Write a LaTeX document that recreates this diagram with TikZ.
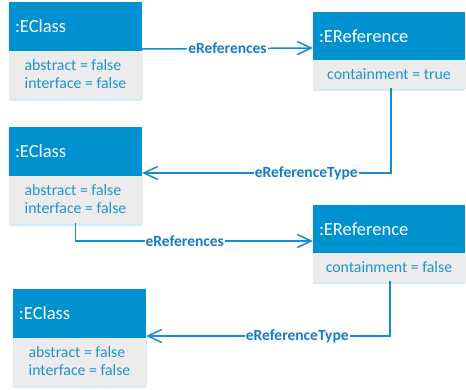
\documentclass[tikz,border=0pt]{standalone}
\usepackage{fontspec}
\setmainfont{Carlito}
\usetikzlibrary{arrows.meta, positioning, shadows}
\definecolor{headblue}{RGB}{0,146,208}
\definecolor{attrgray}{RGB}{236,236,236}
\definecolor{attrblue}{RGB}{32,146,212}
\definecolor{linkblue}{RGB}{22,140,212}
\definecolor{lblblue}{RGB}{24,122,196}

\begin{document}
\begin{tikzpicture}[x=1pt, y=-1pt,
  head/.style={fill=headblue, text=white, anchor=north west, align=left,
    font=\fontsize{18.5}{20}\selectfont, inner xsep=6pt, outer sep=0pt, minimum height=49pt},
  classhead/.style={head, text width=121pt},
  refhead/.style={head, text width=140pt, minimum height=48pt},
  attrs/.style={fill=attrgray, draw=black!8, text=attrblue, align=left,
    font=\fontsize{15.8}{18}\selectfont, outer sep=0pt,
    drop shadow={shadow xshift=0pt, shadow yshift=-2.5pt, fill=headblue!30, opacity=0.6}},
  classattr/.style={attrs, minimum width=133pt, minimum height=47pt},
  refattr/.style={attrs, minimum width=152pt, minimum height=28pt},
  link/.style={draw=linkblue, line width=1.5pt, -{Straight Barb[length=14pt, width=13pt]}},
  lbl/.style={fill=white, text=lblblue, inner sep=1pt, font=\fontsize{15.5}{18}\selectfont\bfseries}]
  \useasboundingbox (0,0) rectangle (466,389);

  % Objects
  \node[classhead] (c1h) at (9,2) {:EClass};
  \node[classattr, below=0pt of c1h] (c1a) {abstract = false\\interface = false};
  \node[refhead] (r1h) at (313,12) {:EReference};
  \node[refattr, below=0pt of r1h] (r1a) {containment = true};
  \node[classhead] (c2h) at (9,127) {:EClass};
  \node[classattr, below=0pt of c2h] (c2a) {abstract = false\\interface = false};
  \node[refhead] (r2h) at (313,205) {:EReference};
  \node[refattr, below=0pt of r2h] (r2a) {containment = false};
  \node[classhead] (c3h) at (13,289) {:EClass};
  \node[classattr, below=0pt of c3h] (c3a) {abstract = false\\interface = false};

  % Links
  \draw[link] ([yshift=2pt]c1h.south east) -- node[lbl] {eReferences} ([yshift=-12pt]r1h.west);
  \draw[link] ([xshift=2pt]r1a.south) |- node[lbl, pos=0.67] {eReferenceType} ([yshift=3pt]c2h.south east);
  \draw[link] (c2a.south) |- node[lbl, pos=0.73] {eReferences} ([yshift=-12pt]r2h.west);
  \draw[link] ([xshift=1pt]r2a.south) |- node[lbl, pos=0.69] {eReferenceType} ([yshift=2pt]c3h.south east);
\end{tikzpicture}
\end{document}
